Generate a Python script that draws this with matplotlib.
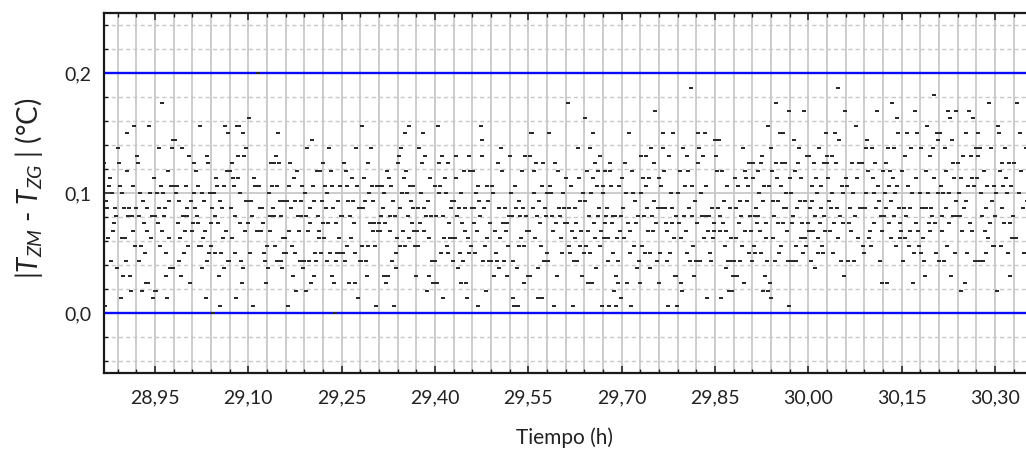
import numpy as np
import matplotlib
matplotlib.use('Agg')
import matplotlib.pyplot as plt
from matplotlib.ticker import MultipleLocator, FuncFormatter

plt.rcParams['font.family'] = ['Lato', 'DejaVu Sans']
plt.rcParams['mathtext.fontset'] = 'custom'
plt.rcParams['mathtext.rm'] = 'Lato'
plt.rcParams['mathtext.it'] = 'Lato:italic'

# |T_ZM - T_ZG| readings, in steps of 0.00625 degC, one list per 0.03 h block
STEP = 0.00625
t_start = 28.86
block_h = 0.03
dT_steps = [
    [6, 17, 12, 9, 20, 1, 15, 14, 10, 17, 18, 7, 16, 11, 12, 14, 13, 6],
    [22, 20, 17, 2, 16, 10, 5, 14, 10, 7, 24, 19, 13, 14, 5, 3, 13, 11, 17, 25, 9, 14],
    [21, 20, 13, 7, 16, 9, 3, 15, 12, 8, 4, 14, 11, 4, 25, 16, 10, 13, 2, 18, 3],
    [13, 3, 16, 12, 22, 14, 9, 17, 11, 28, 16, 13, 14, 8, 5, 2, 19, 10, 15, 6, 17, 22, 6, 23],
    [17, 23, 16, 17, 12, 7, 15, 10, 5, 22, 13, 8, 11, 17, 13, 14, 9, 21, 4, 15, 11],
    [12, 20, 16, 14, 19, 13, 17, 12, 9, 25, 9, 6, 16, 10, 15, 11, 2, 21, 7, 20, 8, 16, 9],
    [12, 14, 0, 16, 8, 13, 18, 17, 12, 5, 1, 15, 8, 14, 10, 17, 6, 25, 11, 19, 7, 24, 7],
    [19, 14, 10, 20, 18, 17, 8, 13, 2, 25, 21, 18, 25, 16, 12, 7, 4, 24, 6, 21, 11, 22, 15, 15, 12],
    [26, 8, 15, 13, 1, 18, 17, 11, 32, 17, 14, 11, 14, 12, 8, 7, 4],
    [9, 6, 16, 13, 11, 20, 17, 14, 20, 13, 9, 21, 17, 7, 24, 20, 15, 13, 7, 6, 10, 15, 8, 10],
    [8, 15, 1, 17, 11, 20, 14, 9, 5, 18, 8, 15, 3, 19, 13, 11, 7, 15, 13, 17, 6, 7],
    [16, 13, 3, 22, 11, 7, 14, 12, 4, 23, 17, 5, 15, 8, 7, 19, 13, 11, 10, 19, 8, 15, 12],
    [20, 10, 17, 14, 7, 16, 12, 22, 8, 19, 17, 5, 14, 4, 0, 12, 7, 8, 15, 10, 8, 17, 13],
    [13, 8, 20, 7, 19, 9, 17, 15, 4, 13, 10, 18, 15, 12, 8, 4, 22, 17, 2, 14, 7],
    [7, 25, 9, 14, 18, 15, 7, 5, 9, 20, 16, 12, 22, 17, 11, 15, 12, 9, 1, 17, 11, 12],
    [17, 11, 13, 17, 14, 5, 16, 12, 4, 19, 5, 18, 13, 11, 17, 7, 15, 1, 13, 8, 6, 10],
    [20, 21, 14, 9, 22, 16, 11, 18, 9, 24, 19, 16, 13, 25, 10, 17, 15, 12, 17, 14, 11, 9, 5],
    [11, 9, 14, 22, 12, 16, 20, 24, 14, 11, 21, 13, 3, 15, 10, 5, 18, 13, 7, 4, 7, 7],
    [17, 13, 4, 25, 20, 16, 17, 8, 21, 13, 2, 10, 18, 16, 9, 8, 20, 12, 10, 14, 10, 15, 7],
    [15, 10, 21, 18, 13, 6, 14, 8, 4, 16, 12, 7, 19, 11, 14, 4, 2, 10, 8, 21, 19, 9, 14],
    [19, 14, 12, 8, 16, 11, 1, 17, 15, 13, 25, 23, 21, 7, 14, 9, 3, 17, 10, 15, 7, 12, 7],
    [7, 17, 16, 5, 11, 8, 7, 20, 14, 6, 10, 22, 19, 12, 7, 14, 11, 5, 12, 9, 13],
    [21, 16, 13, 7, 2, 1, 17, 14, 6, 1, 9, 15, 13, 10, 19, 14, 9, 4, 21, 13, 11, 5],
    [11, 21, 5, 24, 24, 14, 19, 16, 10, 20, 13, 6, 2, 15, 12, 9, 2, 17, 20, 7, 14, 13, 8],
    [16, 7, 24, 17, 16, 13, 11, 1, 20, 12, 5, 19, 14, 13, 10, 8, 16, 14, 12],
    [18, 12, 28, 9, 14, 8, 17, 11, 1, 7, 14, 10, 12, 7, 22, 18, 9, 15, 11, 5, 16, 8],
    [26, 15, 9, 19, 11, 4, 13, 8, 22, 16, 4, 24, 18, 12, 10, 20, 6, 17, 13, 19, 14, 9, 21, 11, 1, 17],
    [16, 10, 19, 12, 13, 14, 10, 7, 1, 20, 19, 17, 12, 13, 8, 3, 13, 5, 1, 10, 7, 4, 17, 11, 13, 2],
    [18, 14, 10, 20, 16, 4, 12, 24, 11, 8, 1, 19, 16, 9, 15, 12, 6, 13, 7, 4],
    [21, 16, 9, 18, 13, 8, 21, 17, 14, 11, 18, 8, 6, 22, 13, 11, 20, 15, 27, 12, 7, 14, 4],
    [18, 8, 17, 14, 24, 22, 19, 14, 12, 11, 7, 1, 21, 8, 16, 14, 12, 24, 10, 5, 13, 5, 1],
    [16, 12, 19, 10, 4, 3, 22, 13, 17, 11, 8, 21, 19, 14, 7, 30, 17, 13, 9, 5, 15, 7],
    [12, 20, 24, 22, 7, 16, 13, 21, 10, 24, 17, 13, 2, 11, 13, 8, 7, 14, 10, 11, 12],
    [23, 21, 19, 14, 23, 13, 11, 2, 19, 12, 15, 9, 11, 6, 17, 7, 3, 14, 10, 7, 3, 5],
    [7, 18, 14, 10, 5, 17, 12, 15, 7, 13, 9, 22, 4, 19, 11, 18, 15, 17, 8, 20, 13, 11, 7],
    [20, 18, 9, 8, 13, 14, 12, 19, 13, 16, 11, 8, 20, 21, 15, 3, 17, 5, 12, 10, 7, 3, 25, 17, 4, 2],
    [22, 19, 15, 10, 13, 7, 20, 28, 18, 12, 15, 8, 24, 17, 9, 20, 12, 24, 14, 20, 16, 14, 11, 7, 27, 1],
    [18, 16, 12, 7, 13, 23, 19, 9, 7, 14, 20, 22, 15, 10, 18, 12, 8, 27, 10, 15, 9, 21, 12],
    [11, 21, 14, 7, 17, 15, 11, 20, 6, 13, 18, 16, 10, 8, 22, 12, 14, 17, 9, 8, 20, 13, 11, 24, 21],
    [20, 18, 15, 11, 14, 21, 16, 8, 12, 24, 20, 14, 10, 30, 23, 13, 7, 17, 16, 12, 5, 27],
    [18, 17, 7, 12, 14, 11, 20, 16, 7, 13, 25, 18, 10, 20, 14, 14, 20, 9, 8],
    [14, 22, 16, 23, 19, 10, 11, 9, 22, 18, 16, 12, 20, 14, 27, 17, 15, 7, 13, 11, 4],
    [19, 13, 16, 20, 14, 4, 22, 17, 12, 19, 15, 10, 28, 18, 13, 22, 16, 9, 17, 26, 24, 14, 12, 10, 11],
    [19, 7, 14, 10, 21, 13, 24, 17, 9, 14, 11, 22, 16, 4, 8, 27, 12, 18, 24, 11, 9, 16],
    [8, 22, 14, 10, 7, 5, 19, 14, 25, 16, 12, 21, 11, 14, 13, 22, 29, 18, 12, 8, 24, 16, 23],
    [7, 24, 17, 13, 11, 16, 7, 22, 19, 14, 9, 27, 12, 16, 26, 5, 23, 13, 20, 18, 8, 27, 15, 13],
    [20, 16, 13, 3, 18, 11, 21, 14, 4, 24, 15, 8, 17, 27, 12, 21, 18, 11, 26, 17, 7, 22],
    [18, 24, 21, 7, 22, 16, 13, 7, 19, 11, 14, 8, 17, 10, 28, 12, 22, 15, 9, 17, 9],
    [13, 16, 3, 25, 24, 19, 9, 14, 20, 17, 12, 22, 18, 16, 8, 20, 12, 5, 17, 10, 13],
    [20, 10, 28, 16, 24, 19, 14, 8, 22, 15, 12, 17, 1],
]
limits = [0.0, 0.2]

# build time / value arrays
t, dT = [], []
for k, block in enumerate(dT_steps):
    n = len(block)
    t.extend(t_start + block_h * k + block_h * (np.arange(n) + 0.5) / n)
    dT.extend(np.array(block) * STEP)

fig = plt.figure(figsize=(10.26, 4.5), dpi=100)
ax = fig.add_axes([104 / 1026, 1 - 373 / 450, 922 / 1026, 360 / 450])

grid_col = '#c8c8c8'
ax.set_xlim(28.868, 30.35)
ax.set_ylim(-0.05, 0.25)
ax.xaxis.set_major_locator(MultipleLocator(0.15))
ax.xaxis.set_minor_locator(MultipleLocator(0.03))
ax.yaxis.set_major_locator(MultipleLocator(0.1))
ax.yaxis.set_minor_locator(MultipleLocator(0.02))
ax.xaxis.set_major_formatter(FuncFormatter(lambda v, p: f'{v:.2f}'.replace('.', ',')))
ax.yaxis.set_major_formatter(FuncFormatter(lambda v, p: f'{v:.1f}'.replace('.', ',')))

ax.grid(axis='x', which='both', color=grid_col, lw=1.3, ls='-')
ax.grid(axis='y', which='major', color=grid_col, lw=1.3, ls='-')
ax.grid(axis='y', which='minor', color=grid_col, lw=1.0, ls=(0, (3, 2.2)))
ax.set_axisbelow(True)

for lim in limits:
    ax.axhline(lim, color='#0a0aff', lw=1.7, zorder=2)

# small horizontal dash, like the logger plot
dash = [(-1.0, -0.6), (1.0, -0.6), (1.0, 0.6), (-1.0, 0.6), (-1.0, -0.6)]
ax.plot(t, dT, ls='none', marker=dash, ms=2.4, mew=0, color='#2a2a2a', zorder=3)

ax.tick_params(which='both', direction='in', top=True, right=False,
               colors='#1a1a1a', labelcolor='#222222', labelsize=14)
ax.tick_params(which='major', length=5, width=1.1)
ax.tick_params(which='minor', length=3, width=1.0)
ax.tick_params(axis='x', pad=12)
ax.tick_params(axis='y', pad=9)

ax.spines['right'].set_visible(False)
for s in ['left', 'top', 'bottom']:
    ax.spines[s].set_linewidth(1.6)
    ax.spines[s].set_color('#1a1a1a')

ax.set_xlabel('Tiempo (h)', fontsize=15, color='#222222', va='top')
ax.xaxis.set_label_coords(0.5, -0.152)
fig.text(29 / 1026, 1 - 188 / 450, r'$|T_{ZM}$ - $T_{ZG}$ | (°C)', rotation=90,
         ha='center', va='center', fontsize=20, color='#222222')

fig.savefig('out.png', dpi=100)
